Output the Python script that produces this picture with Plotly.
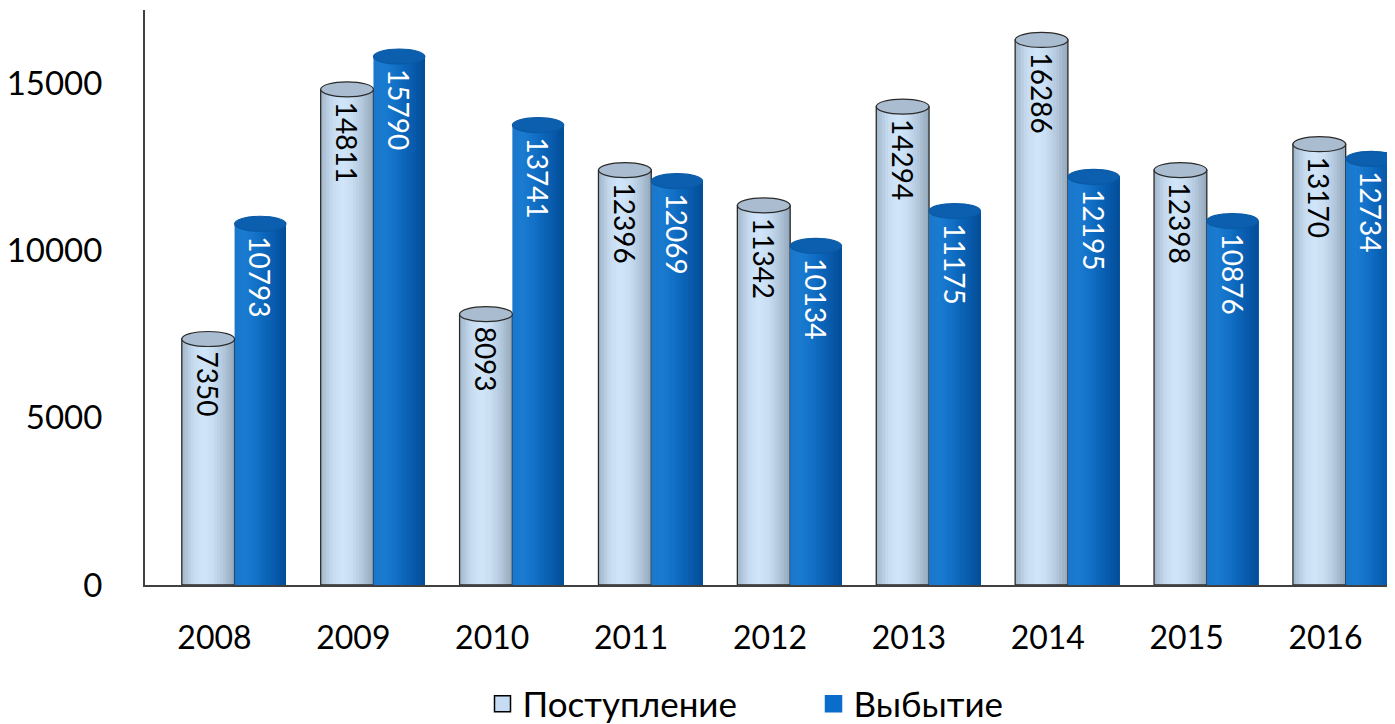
import plotly.graph_objects as go

years = ["2008", "2009", "2010", "2011", "2012", "2013", "2014", "2015", "2016"]
postuplenie = [7350, 14811, 8093, 12396, 11342, 14294, 16286, 12398, 13170]
vybytie = [10793, 15790, 13741, 12069, 10134, 11175, 12195, 10876, 12734]
series_names = ["Поступление", "Выбытие"]
y_ticks = [0, 5000, 10000, 15000]

FONT = "Lato"
Y_MAX = 17180
PX_PER_UNIT = 575 / Y_MAX
xs = list(range(len(years)))


def hex_to_rgb(h):
    h = h.lstrip("#")
    return tuple(int(h[i:i + 2], 16) for i in (0, 2, 4))


def gradient(keys, n):
    """Smooth colour ramp through key colours (styling only)."""
    rgb = [hex_to_rgb(k) for k in keys]
    out = []
    for i in range(n):
        t = i / (n - 1) * (len(rgb) - 1)
        j = min(int(t), len(rgb) - 2)
        f = t - j
        c = tuple(round(rgb[j][m] + (rgb[j + 1][m] - rgb[j][m]) * f) for m in range(3))
        out.append("rgb(%d,%d,%d)" % c)
    return out


light_stripes = gradient(["#a7bbcf", "#c6dbef", "#d1e6f9", "#c8ddf1", "#b3c8dc", "#98acc0"], 18)
dark_stripes = gradient(["#1a78cc", "#1a7bd1", "#1372c8", "#0c66ba", "#085aab", "#044f9a"], 18)

series = [
    dict(name=series_names[0], vals=postuplenie, off=-0.235, w=0.38, stripes=light_stripes,
         text_color="black", outline="#2a2a2a", cap_fill="#a9bcd0", cap_line="#2a2a2a", legend_color="#c5dcf2",
         legend_line="black"),
    dict(name=series_names[1], vals=vybytie, off=0.145, w=0.37, stripes=dark_stripes,
         text_color="white", outline=None, cap_fill="#0c5fae", cap_line="#0a5aa5", legend_color="#0a6ccb",
         legend_line="#0a6ccb"),
]

fig = go.Figure()
shapes = []
cap_px = 15
cap_units = cap_px / PX_PER_UNIT
for s in series:
    n = len(s["stripes"])
    for k, col in enumerate(s["stripes"]):
        fig.add_trace(go.Bar(
            x=xs, y=s["vals"], offset=s["off"] + s["w"] * k / n, width=s["w"] * (n - k) / n,
            marker=dict(color=col, line=dict(width=0)), showlegend=False, hoverinfo="skip",
        ))
    # outline
    fig.add_trace(go.Bar(
        x=xs, y=s["vals"], offset=s["off"], width=s["w"],
        marker=dict(color="rgba(0,0,0,0)",
                    line=dict(width=1.3 if s["outline"] else 0, color=s["outline"] or "rgba(0,0,0,0)")),
        showlegend=False, hoverinfo="skip",
    ))
    # text (shifted below the cap)
    fig.add_trace(go.Bar(
        x=xs, y=s["vals"], base=-(cap_units / 2 + 60), offset=s["off"], width=s["w"],
        marker=dict(color="rgba(0,0,0,0)", line=dict(width=0)),
        text=[str(v) for v in s["vals"]], textposition="inside", insidetextanchor="end",
        textangle=90, textfont=dict(family=FONT, size=28, color=s["text_color"]),
        constraintext="none", cliponaxis=False, showlegend=False, hoverinfo="skip",
    ))
    for xi, v in zip(xs, s["vals"]):
        shapes.append(dict(
            type="circle", xref="x", yref="y", layer="above",
            x0=xi + s["off"], x1=xi + s["off"] + s["w"],
            y0=v - cap_units / 2, y1=v + cap_units / 2,
            fillcolor=s["cap_fill"], line=dict(color=s["cap_line"], width=1.2),
        ))
    # legend entry
    fig.add_trace(go.Scatter(
        x=[None], y=[None], mode="markers", name=s["name"],
        marker=dict(symbol="square", size=22, color=s["legend_color"],
                    line=dict(color=s["legend_line"], width=1.5)),
    ))

# page body has an 8px margin, so the figure is sized/positioned to compensate
fig.update_layout(
    width=1387, height=716,
    margin=dict(l=137, r=0, t=2, b=139, autoexpand=False),
    paper_bgcolor="white", plot_bgcolor="white",
    barmode="overlay",
    shapes=shapes,
    showlegend=True,
    legend=dict(orientation="h", x=0.270, xanchor="left", y=-0.207, yanchor="middle",
                font=dict(family=FONT, size=35, color="black"), itemsizing="trace",
                itemwidth=30, tracegroupgap=0, entrywidth=286, entrywidthmode="pixels"),
    xaxis=dict(range=[-0.5, 8.5], tickmode="array", tickvals=xs, ticktext=years,
               showline=True, linecolor="#404040", linewidth=2, showgrid=False, zeroline=False,
               ticks="", ticklabelstandoff=24, automargin=False,
               tickfont=dict(family=FONT, size=32, color="black"), fixedrange=True),
    yaxis=dict(range=[0, Y_MAX], tickmode="array", tickvals=y_ticks, ticktext=[str(t) for t in y_ticks],
               showline=True, linecolor="#404040", linewidth=2, showgrid=False, zeroline=False,
               ticks="", ticklabelstandoff=34, automargin=False,
               tickfont=dict(family=FONT, size=33, color="black"), fixedrange=True),
)

fig.write_html("out.html")
